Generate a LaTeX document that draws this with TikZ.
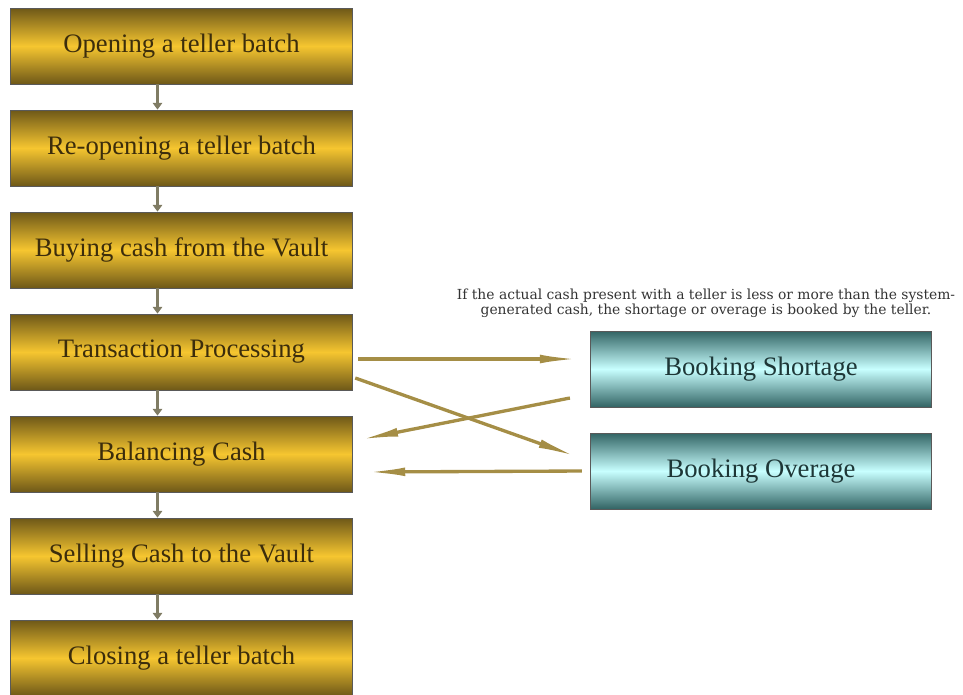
\documentclass[tikz,border=0pt]{standalone}
\usepackage{fontspec}
\setmainfont{Liberation Serif}
\newfontfamily\notefont{DejaVu Serif}
\usetikzlibrary{arrows.meta,calc}
\definecolor{golddark}{RGB}{110,88,24}
\definecolor{goldbright}{RGB}{246,198,48}
\definecolor{goldtext}{RGB}{60,45,12}
\definecolor{cyandark}{RGB}{50,100,100}
\definecolor{cyanbright}{RGB}{200,255,255}
\definecolor{cyantext}{RGB}{30,55,55}
\definecolor{arrowgold}{RGB}{165,142,70}
\definecolor{smallarrow}{RGB}{128,124,100}
\tikzset{
  goldbox/.style={draw=black!65, line width=0.6pt, minimum width=257pt, minimum height=57pt,
    top color=golddark, bottom color=golddark, middle color=goldbright,
    text=goldtext, font=\fontsize{20}{23}\selectfont, inner sep=0pt},
  cyanbox/.style={draw=black!65, line width=0.6pt, minimum width=256pt, minimum height=57pt,
    top color=cyandark, bottom color=cyandark, middle color=cyanbright,
    text=cyantext, font=\fontsize{20}{23}\selectfont, inner sep=0pt},
  stepline/.style={draw=smallarrow, line width=2.4pt, -{Triangle[length=5pt,width=7pt]}},
  longarrow/.style={draw=arrowgold, line width=2.5pt, -{Latex[length=30pt,width=6.5pt]}},
  notetext/.style={font=\notefont\fontsize{10.4}{11}\selectfont, text=black!80, align=center, inner sep=0pt}
}
\begin{document}
\begin{tikzpicture}[x=0.75pt,y=-0.75pt]
\useasboundingbox (0,0) rectangle (963,694);
\node[goldbox] (b1) at (181.5,46) {Opening a teller batch};
\node[goldbox] (b2) at (181.5,148) {Re-opening a teller batch};
\node[goldbox] (b3) at (181.5,250) {Buying cash from the Vault};
\node[goldbox] (b4) at (181.5,352) {Transaction Processing};
\node[goldbox] (b5) at (181.5,454) {Balancing Cash};
\node[goldbox] (b6) at (181.5,556) {Selling Cash to the Vault};
\node[goldbox] (b7) at (181.5,658) {Closing a teller batch};
\node[cyanbox] (s) at (761,369) {Booking Shortage};
\node[cyanbox] (o) at (761,471) {Booking Overage};
\node[notetext] (note) at (706,303) {If the actual cash present with a teller is less or more than the system-\\generated cash, the shortage or overage is booked by the teller.};
\foreach \a/\b in {b1/b2,b2/b3,b3/b4,b4/b5,b5/b6,b6/b7}
  \draw[stepline] ([xshift=-18pt]\a.south) -- ([xshift=-18pt]\b.north);
\draw[longarrow] ($(b4.east)+(5,7)$) -- ($(s.west)+(-10,-10)$);
\draw[longarrow] ($(b4.east)+(2,26)$) -- ($(o.west)+(-12,-14)$);
\draw[longarrow] ($(s.west)+(-20,29)$) -- ($(b5.east)+(5,-14)$);
\draw[longarrow] ($(o.west)+(-8,0)$) -- ($(b5.east)+(12,18)$);
\end{tikzpicture}
\end{document}
